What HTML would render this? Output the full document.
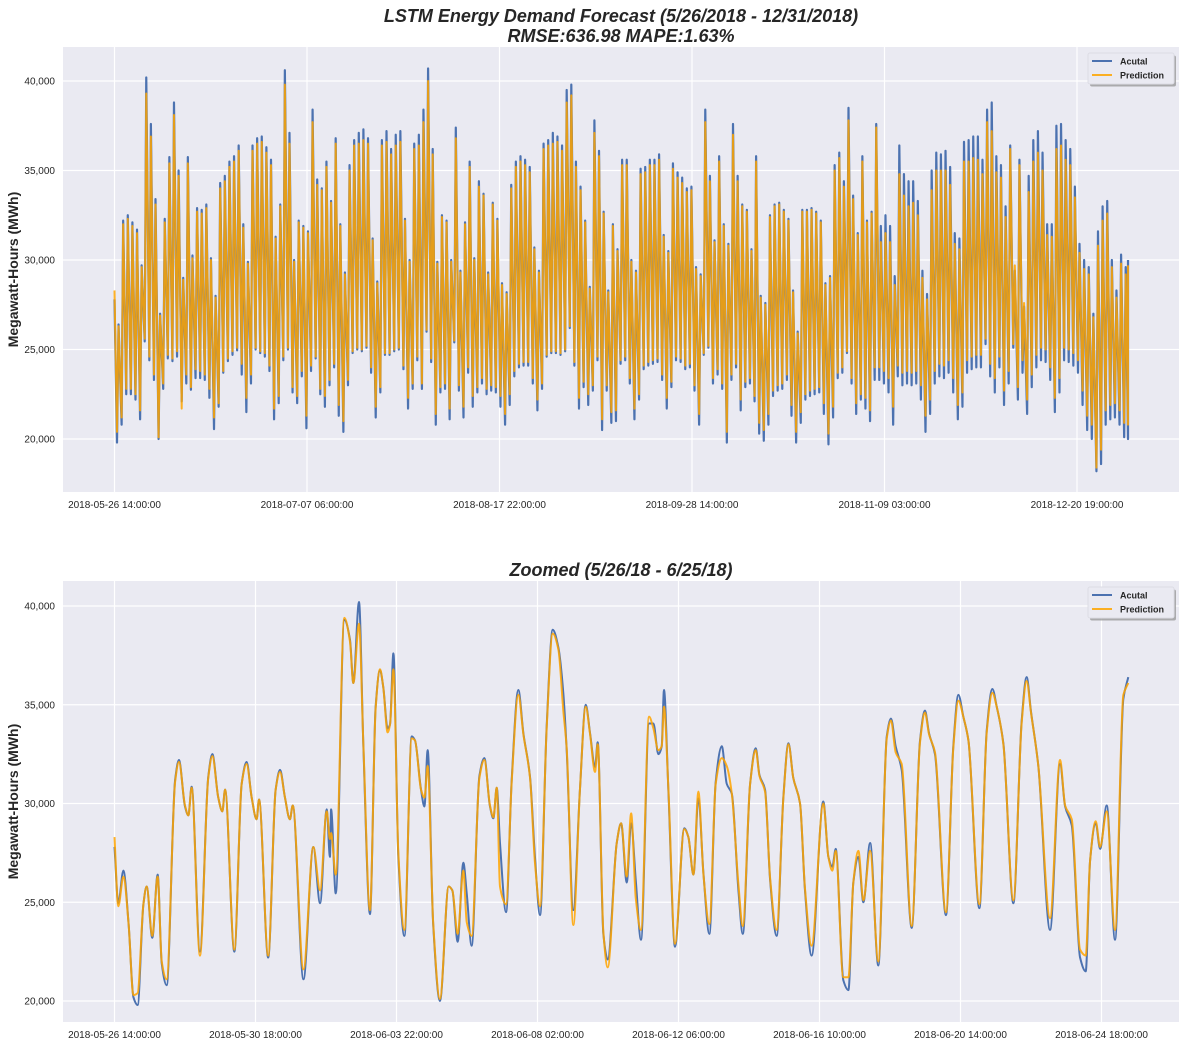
<!DOCTYPE html>
<html><head><meta charset="utf-8"><style>
body{margin:0;background:#fff}
svg text{font-family:"Liberation Sans",sans-serif}
</style></head><body>
<svg id="chart" width="1186" height="1049" viewBox="0 0 1186 1049" xmlns="http://www.w3.org/2000/svg">
<rect width="1186" height="1049" fill="#fff"/>
<g id="top"></g>
<g id="bot"></g>
</svg>
<script>
// ===== Top chart data (daily low / peak, thousand MWh) =====
const topStart = [27.8, 28.3];
const actualPeak = [26.4,32.2,32.5,32.1,31.7,29.7,40.2,37.6,33.4,27.0,32.3,35.75,38.8,35.0,29.0,35.75,30.25,32.9,32.8,33.1,30.1,28.0,34.3,34.7,35.5,35.8,36.4,32.0,29.9,36.4,
36.8,36.9,36.3,35.6,31.3,33.1,40.6,37.1,30.0,32.2,31.9,31.6,38.4,34.5,34.0,35.5,33.3,36.8,32.0,29.3,35.3,36.7,37.1,37.3,
36.8,31.2,28.8,36.7,37.2,36.2,37.0,37.2,32.3,30.0,36.5,37.0,38.4,40.7,36.2,29.9,32.5,32.2,30.0,37.4,29.4,32.1,35.5,30.1,34.4,33.7,29.3,33.2,32.3,28.7,28.2,34.2,35.5,35.8,35.6,35.2,30.7,29.4,36.5,36.7,37.1,36.9,36.4,39.5,39.8,35.5,34.1,32.2,28.5,37.8,36.1,32.7,28.3,32.0,
30.6,35.6,35.6,30.0,29.4,35.1,35.2,35.6,35.6,35.9,31.4,30.5,35.4,34.9,34.6,34.0,34.1,29.6,29.2,38.4,34.7,31.1,35.8,32.0,30.9,37.6,34.7,33.1,32.8,30.6,35.8,28.0,27.6,32.5,33.1,33.2,32.8,32.3,28.3,26.0,32.8,32.8,32.9,32.7,32.2,28.7,29.1,35.3,36.0,34.4,38.5,33.6,31.5,35.8,32.2,32.7,
37.6,31.9,32.5,31.9,29.1,36.4,34.8,34.4,34.4,33.3,29.4,28.1,35.0,36.0,35.9,36.1,35.2,31.5,31.2,36.6,36.7,36.9,36.9,35.6,38.4,38.8,35.8,35.3,33.0,36.4,29.4,35.6,27.4,34.7,36.7,37.2,36.0,32.0,32.0,37.5,37.6,36.7,36.2,34.1,30.9,30.0,29.6,27.0,31.6,33.0,33.3,30.0,28.3,30.3,29.6,30.0];
const actualLow = [19.8,20.8,22.5,22.5,22.2,21.1,25.45,24.4,23.3,20.0,22.8,24.5,24.35,24.6,22.1,23.1,22.75,23.4,23.4,23.3,22.3,20.55,21.8,23.7,24.35,24.7,24.95,23.6,21.5,23.1,
25.0,24.8,24.6,23.8,21.1,22.0,24.4,25.0,22.6,22.0,23.5,20.6,23.8,24.5,22.5,21.8,23.0,24.0,21.3,20.4,23.0,24.8,25.0,24.9,
25.1,23.7,21.2,22.6,24.7,24.7,24.9,25.0,23.9,21.7,22.8,24.4,22.8,26.0,24.3,20.8,22.6,22.8,21.1,25.4,22.7,21.2,23.7,21.8,22.6,23.1,22.5,22.7,22.6,21.8,20.8,21.9,23.5,24.0,24.1,24.1,23.1,21.6,22.8,24.6,24.8,24.8,24.7,24.9,26.2,24.1,21.7,22.9,21.9,22.7,24.4,20.5,22.7,20.9,
21.0,24.2,24.4,23.1,21.1,22.2,23.9,24.1,24.2,24.3,23.3,21.7,22.9,24.4,24.3,23.9,24.0,22.7,20.8,24.7,25.1,23.1,23.6,22.8,19.8,23.3,24.0,21.6,22.9,23.1,22.1,20.3,19.9,20.8,22.4,22.7,22.8,23.3,21.3,19.8,20.9,22.2,22.4,22.5,22.6,21.4,19.7,21.2,23.4,23.7,24.8,23.1,21.4,22.2,21.7,21.0,
23.3,23.3,23.1,22.6,20.8,23.5,23.0,23.1,23.0,23.1,22.2,20.4,21.4,23.1,23.5,23.4,23.7,22.6,21.1,21.8,23.7,23.9,24.0,24.0,25.3,23.5,22.6,24.0,21.9,23.1,25.1,22.2,23.7,21.4,22.9,24.0,24.4,24.3,23.3,21.5,22.6,24.4,24.3,24.1,23.7,21.9,20.5,20.0,18.2,18.6,20.8,21.1,21.2,20.8,20.1,20.0];
const predPeak = [26.3,32.0,32.3,31.9,31.5,29.6,39.3,36.9,33.1,26.9,32.1,35.4,38.1,34.7,28.9,35.4,30.1,32.7,32.6,32.9,30.0,27.9,34.0,34.4,35.2,35.5,36.1,31.8,29.8,36.1,
36.5,36.6,36.0,35.3,31.2,33.0,39.8,36.5,29.9,32.1,31.8,31.5,37.7,34.2,33.9,35.2,33.2,36.5,31.9,29.2,35.0,36.4,36.5,36.7,
36.5,31.1,28.7,36.4,36.6,35.9,36.4,36.6,32.2,29.9,36.2,36.4,37.7,40.0,35.9,29.8,32.4,32.1,29.9,36.8,29.3,32.0,35.2,30.0,34.1,33.6,29.2,33.1,32.2,28.6,28.1,34.0,35.2,35.5,35.3,34.9,30.6,29.3,36.2,36.4,36.5,36.6,36.1,38.8,39.2,35.2,33.9,32.1,28.4,37.1,35.8,32.6,28.2,31.9,
30.5,35.3,35.3,29.9,29.3,34.8,34.9,35.3,35.3,35.6,31.3,30.4,35.1,34.6,34.3,33.8,33.9,29.5,29.1,37.7,34.4,31.0,35.5,31.9,30.8,37.0,34.4,33.0,32.7,30.5,35.5,27.9,27.5,32.4,33.0,33.1,32.7,32.2,28.2,25.9,32.7,32.7,32.8,32.6,32.1,28.6,29.0,35.0,35.7,34.1,37.8,33.4,31.4,35.5,32.1,32.6,
37.4,31.0,31.5,31.0,28.6,34.8,33.6,33.0,33.2,32.5,29.0,27.8,33.9,35.0,35.0,35.0,34.2,30.9,30.6,35.5,35.5,35.7,35.6,34.8,37.7,37.2,34.9,34.6,32.4,36.2,29.7,35.3,27.6,33.8,35.5,36.0,35.0,31.4,31.3,36.2,36.4,35.6,35.3,33.5,30.4,29.5,29.2,26.8,30.8,32.2,32.6,29.6,27.9,29.8,29.2,29.7];
const predLow = [20.4,21.2,22.8,22.8,22.5,21.6,25.6,24.6,23.6,20.1,23.1,24.7,24.5,24.9,21.7,23.6,22.9,23.9,23.8,23.6,22.8,21.2,22.0,23.8,24.5,24.9,25.1,24.2,22.3,23.6,
25.1,24.9,24.8,24.1,21.7,22.4,24.6,25.1,22.9,22.4,23.8,21.3,24.1,24.6,22.8,22.4,23.3,24.2,21.9,21.0,23.3,24.9,25.1,25.0,
25.2,24.0,21.8,22.9,24.8,24.8,25.0,25.1,24.1,22.3,23.1,24.6,23.1,26.1,24.5,21.4,22.9,23.1,21.7,25.5,23.0,21.8,24.0,22.4,22.9,23.4,22.8,23.0,22.9,22.4,21.4,22.5,23.8,24.2,24.3,24.3,23.4,22.2,23.1,24.7,24.9,24.9,24.8,25.0,26.3,24.3,22.3,23.2,22.5,23.0,24.6,21.1,23.0,21.5,
21.6,24.4,24.6,23.4,21.7,22.5,24.1,24.3,24.4,24.5,23.6,22.3,23.2,24.6,24.5,24.1,24.2,23.0,21.4,24.8,25.2,23.4,23.9,23.1,20.4,23.6,24.2,22.2,23.2,23.4,22.4,20.9,20.5,21.4,22.7,23.0,23.1,23.6,21.9,20.4,21.5,22.5,22.7,22.8,22.9,22.0,20.3,21.8,23.7,24.0,24.9,23.4,22.0,22.5,22.3,21.6,
24.0,24.0,23.8,23.4,21.8,24.1,23.7,23.8,23.7,23.8,23.0,21.3,22.2,23.8,24.2,24.1,24.4,23.4,21.9,22.6,24.4,24.6,24.7,24.7,25.6,24.2,23.4,24.6,22.7,23.8,25.3,22.9,24.4,22.2,23.6,24.7,25.1,25.0,24.0,22.3,23.4,25.1,25.0,24.8,24.4,22.7,21.3,20.8,18.4,19.4,21.6,21.9,22.0,21.6,20.9,20.8];
const topTickLabels = ["2018-05-26 14:00:00","2018-07-07 06:00:00","2018-08-17 22:00:00","2018-09-28 14:00:00","2018-11-09 03:00:00","2018-12-20 19:00:00"];
const yTicks = [20000,25000,30000,35000,40000];

// ===== Zoomed chart data (hours since 2018-05-26 14:00, thousand MWh) =====
const zoomHours = [0,2.7,6.3,10,13.4,16.4,20.5,22.8,26.8,30.6,33.5,37,43,45.7,50,52.4,54.7,60.6,66.5,69.4,73.6,76.5,78.4,85,90.2,93.7,97.3,100.8,102.5,109,114.3,117.4,120.9,124.4,126.4,134,141,145.8,150.5,152.8,153.6,156.9,163,167,169.4,173.4,176.5,181.2,185.2,188.3,190.6,193.7,195.4,197.8,201.3,205.6,210.8,213.1,217.4,219.8,222.1,226,230.8,237,239.6,243.4,247.4,249.8,253.3,258.8,262.3,266.3,268.7,271.1,273.4,277.7,281.7,286.4,290,294.7,298.2,301.8,306.5,310.8,314.8,318.3,320.7,325.4,330.1,334.2,337.3,340.8,342.7,346.7,349.8,356.2,359.3,363.3,366.4,369.7,373.4,379.1,382.2,385.7,388.1,389.7,392.8,397.5,404.1,407,410.6,414.1,417.7,421.9,426.4,430.7,434.2,437.8,442.5,445.6,450.8,454.8,457.4,461.4,465,469.6,474.4,478,481.4,486.2,489.7,494.4,502.7,506.3,509.1,511.5,516.9,520.5,524,527.6,531.1,535.9,541.7,547.7,550.7,554,558.3,565.4,571.3,574.8,577.7,581.9,589.7,594.9,598.5,602,605.6,613.4,618.6,622.6,625.7,630.4,637.5,643.4,646.9,650,655.2,663.5,670.6,674.2,678.9,684.8,688.8,691.9,695.9,699,703.7,709.6,715.5,719];
const zoomActual = [27.8,24.95,26.6,23.9,20.2,19.8,24.9,25.8,23.2,26.4,21.9,20.8,31.2,32.2,29.85,29.4,30.85,22.5,31.35,32.5,30.3,29.6,30.7,22.5,31,32.1,30.3,29.2,30.2,22.2,30.7,31.7,30.3,29.2,29.9,21.1,27.8,24.95,29.7,27.3,29.7,25.45,39.3,38.3,36.1,40.2,32.9,24.4,34.9,36.75,35.9,33.8,34,37.6,27.3,23.3,33.4,33.2,30.7,29.85,32.7,23.9,20.0,25.8,25.6,23.0,27.0,25.45,22.8,31.4,32.3,29.85,29.25,30.8,28.0,24.5,31.2,35.75,33.55,31.35,27.3,24.35,33.9,38.8,37.9,35.6,32.7,24.6,30.7,35.0,33.55,31.85,33.1,23.4,22.1,28.0,29.0,26.0,29.0,26.1,23.1,34.05,34.05,32.5,32.9,35.75,30.7,22.75,28.75,28.3,26.4,30.25,26.45,23.4,31.1,32.9,31.0,30.5,25.6,23.4,31.0,32.8,31.45,30.7,26.1,23.3,30.35,33.05,31.3,30.0,25.6,22.3,30.1,27.3,26.8,27.7,21.05,20.55,26.0,27.3,25.0,28.0,21.8,33.4,34.3,32.9,31.7,23.7,33.2,34.7,33.55,32.5,24.35,32.9,35.5,34.4,33.2,24.7,33.7,35.8,34.9,33.05,24.95,34.2,36.4,34.65,31.9,23.6,32.0,29.85,28.9,22.2,21.5,27.1,29.0,27.7,29.9,23.1,35.3,36.4];
const zoomPred = [28.3,24.8,26.3,23.9,20.3,20.4,24.9,25.8,23.3,26.3,22.0,21.1,31.1,32.1,29.9,29.4,30.8,22.3,31.3,32.4,30.3,29.6,30.7,22.6,31,32.0,30.3,29.2,30.2,22.3,30.7,31.6,30.3,29.2,29.9,21.6,27.8,25.6,29.6,28.2,28.5,26.4,39.4,38.2,36.1,39.1,33.0,24.6,34.8,36.8,35.9,33.6,34,36.8,27.5,23.6,33.3,33.2,30.7,30.3,31.9,24.0,20.1,25.8,25.6,23.4,26.6,24.0,23.3,31.3,32.2,29.9,29.3,30.8,25.8,24.9,31.1,35.5,33.5,31.3,27.0,24.8,33.8,38.6,37.8,34.7,32.8,23.85,30.7,34.9,33.5,31.6,33.0,23.5,21.7,28.0,29.0,26.3,29.5,25.2,23.6,34.4,33.8,32.7,32.9,34.9,30.8,22.9,28.7,28.3,26.4,30.6,26.4,23.9,31.0,32.3,31.9,30.5,25.9,23.8,31.0,32.7,31.4,30.6,26.2,23.6,30.3,33.0,31.3,30.0,25.7,22.8,30.0,27.3,26.6,27.6,21.2,21.2,26.0,27.6,25.1,27.6,22.0,33.3,34.2,32.6,32.0,23.8,33.1,34.6,33.5,32.6,24.5,32.8,35.2,34.4,33.2,24.9,33.6,35.6,34.9,33.0,25.1,34.1,36.2,34.6,31.9,24.2,32.2,29.9,29.2,22.6,22.3,27.1,29.1,27.8,29.6,23.6,35.5,36.1];
const zoomTickLabels = ["2018-05-26 14:00:00","2018-05-30 18:00:00","2018-06-03 22:00:00","2018-06-08 02:00:00","2018-06-12 06:00:00","2018-06-16 10:00:00","2018-06-20 14:00:00","2018-06-24 18:00:00"];

const NS = "http://www.w3.org/2000/svg";
function mk(parent, tag, attrs, text){
  const e = document.createElementNS(NS, tag);
  for (const k in attrs) e.setAttribute(k, attrs[k]);
  if (text !== undefined) e.textContent = text;
  parent.appendChild(e);
  return e;
}
function fmt(v){ return v.toLocaleString("en-US"); }

function drawPanel(g, cfg){
  const bg = mk(g, "rect", {x:cfg.x0, y:cfg.y0, width:cfg.x1-cfg.x0, height:cfg.y1-cfg.y0, fill:"#EAEAF2"});
  
  
  yTicks.forEach(t=>{
    const y = cfg.ys(t/1000);
    const gl = mk(g, "line", {x1:cfg.x0, x2:cfg.x1, y1:y, y2:y, stroke:"#fff", "stroke-width":1.2});
    
    
    const tl = mk(g, "text", {x:cfg.x0-8, y:y+3.5, "text-anchor":"end", "font-size":"10", fill:"#262626"}, fmt(t));
    
    
  });
  cfg.tickLabels.forEach((lab,i)=>{
    const x = cfg.xs(i*cfg.tickStep);
    const gl = mk(g, "line", {x1:x, x2:x, y1:cfg.y0, y2:cfg.y1, stroke:"#fff", "stroke-width":1.2});
    
    
    const tl = mk(g, "text", {x:x, y:cfg.y1+16, "text-anchor":"middle", "font-size":"10", fill:"#262626"}, lab);
    
    
  });
  const yl = mk(g, "text", {x:0, y:0, transform:`translate(18,${(cfg.y0+cfg.y1)/2}) rotate(-90)`, "text-anchor":"middle", "font-size":"14", "font-weight":"bold", fill:"#262626"}, "Megawatt-Hours (MWh)");
  
  
}

function drawLegend(g, x, y){
  const sh = mk(g, "rect", {x:x+2, y:y+2.5, width:86, height:31, rx:2, fill:"#9a9a9a", opacity:0.8});
  
  
  const bx = mk(g, "rect", {x:x, y:y, width:86, height:31, rx:2, fill:"#EAEAF2", stroke:"#dcdce4"});
  
  
  const l1 = mk(g, "line", {x1:x+4, x2:x+24, y1:y+8, y2:y+8, stroke:"#4C72B0", "stroke-width":2});
  
  
  const t1 = mk(g, "text", {x:x+32, y:y+11.5, "font-size":"9", "font-weight":"bold", fill:"#262626"}, "Acutal");
  
  
  const l2 = mk(g, "line", {x1:x+4, x2:x+24, y1:y+22, y2:y+22, stroke:"#FFA500", "stroke-width":2, opacity:0.85});
  
  
  const t2 = mk(g, "text", {x:x+32, y:y+25.5, "font-size":"9", "font-weight":"bold", fill:"#262626"}, "Prediction");
  
  
}

// ----- Top panel -----
const gTop = document.getElementById("top");
const TOPEND = 5265;
const txs = h => 114.5 + 0.1925*h;
const tys = v => 81 + (40 - v)*17.9;
drawPanel(gTop, {x0:63, x1:1179, y0:47, y1:492, xs:txs, ys:tys, tickStep:1000, tickLabels:topTickLabels});
function topPath(start, lows, peaks){
  let d = `M${txs(0).toFixed(2)},${tys(start).toFixed(2)}`;
  const n = Math.min(lows.length, peaks.length);
  for (let k=0;k<n;k++){
    const hl = Math.min(24*k+13, TOPEND), hp = Math.min(24*k+21, TOPEND);
    d += `L${txs(hl).toFixed(2)},${tys(lows[k]).toFixed(2)}L${txs(hp).toFixed(2)},${tys(peaks[k]).toFixed(2)}`;
  }
  return d;
}
const pa = mk(gTop, "path", {d:topPath(topStart[0], actualLow, actualPeak), fill:"none", stroke:"#4C72B0", "stroke-width":2.2, "stroke-linejoin":"round"});


const pp = mk(gTop, "path", {d:topPath(topStart[1], predLow, predPeak), fill:"none", stroke:"#FFA500", "stroke-width":2, opacity:0.85, "stroke-linejoin":"round"});


drawLegend(gTop, 1088, 53);
const tt1 = mk(gTop, "text", {x:621, y:22, "text-anchor":"middle", "font-size":"18", "font-weight":"bold", "font-style":"italic", fill:"#262626"}, "LSTM Energy Demand Forecast (5/26/2018 - 12/31/2018)");


const tt2 = mk(gTop, "text", {x:621, y:42, "text-anchor":"middle", "font-size":"18", "font-weight":"bold", "font-style":"italic", fill:"#262626"}, "RMSE:636.98 MAPE:1.63%");



// ----- Bottom panel -----
const gBot = document.getElementById("bot");
const bxs = h => 114.5 + 1.41*h;
const bys = v => 606 + (40 - v)*19.75;
drawPanel(gBot, {x0:63, x1:1179, y0:581, y1:1022, xs:bxs, ys:bys, tickStep:100, tickLabels:zoomTickLabels});
// monotone cubic (Fritsch-Carlson) to avoid overshoot
function smoothPath(hs, vs){
  const n = hs.length;
  const X = hs.map(bxs), Y = vs.map(bys);
  const dx = [], s = [];
  for (let i=0;i<n-1;i++){ dx[i] = X[i+1]-X[i]; s[i] = (Y[i+1]-Y[i])/dx[i]; }
  const m = new Array(n);
  m[0] = s[0]; m[n-1] = s[n-2];
  for (let i=1;i<n-1;i++){
    if (s[i-1]*s[i] <= 0) m[i] = 0;
    else { const w1 = 2*dx[i]+dx[i-1], w2 = dx[i]+2*dx[i-1]; m[i] = (w1+w2)/(w1/s[i-1]+w2/s[i]); }
  }
  let d = `M${X[0].toFixed(2)},${Y[0].toFixed(2)}`;
  for (let i=0;i<n-1;i++){
    const h = dx[i]/3;
    d += `C${(X[i]+h).toFixed(2)},${(Y[i]+m[i]*h).toFixed(2)} ${(X[i+1]-h).toFixed(2)},${(Y[i+1]-m[i+1]*h).toFixed(2)} ${X[i+1].toFixed(2)},${Y[i+1].toFixed(2)}`;
  }
  return d;
}
const za = mk(gBot, "path", {d:smoothPath(zoomHours, zoomActual), fill:"none", stroke:"#4C72B0", "stroke-width":2});


const zp = mk(gBot, "path", {d:smoothPath(zoomHours, zoomPred), fill:"none", stroke:"#FFA500", "stroke-width":2, opacity:0.85});


drawLegend(gBot, 1088, 587);
const bt = mk(gBot, "text", {x:621, y:576, "text-anchor":"middle", "font-size":"18", "font-weight":"bold", "font-style":"italic", fill:"#262626"}, "Zoomed (5/26/18 - 6/25/18)");


</script>
</body></html>
